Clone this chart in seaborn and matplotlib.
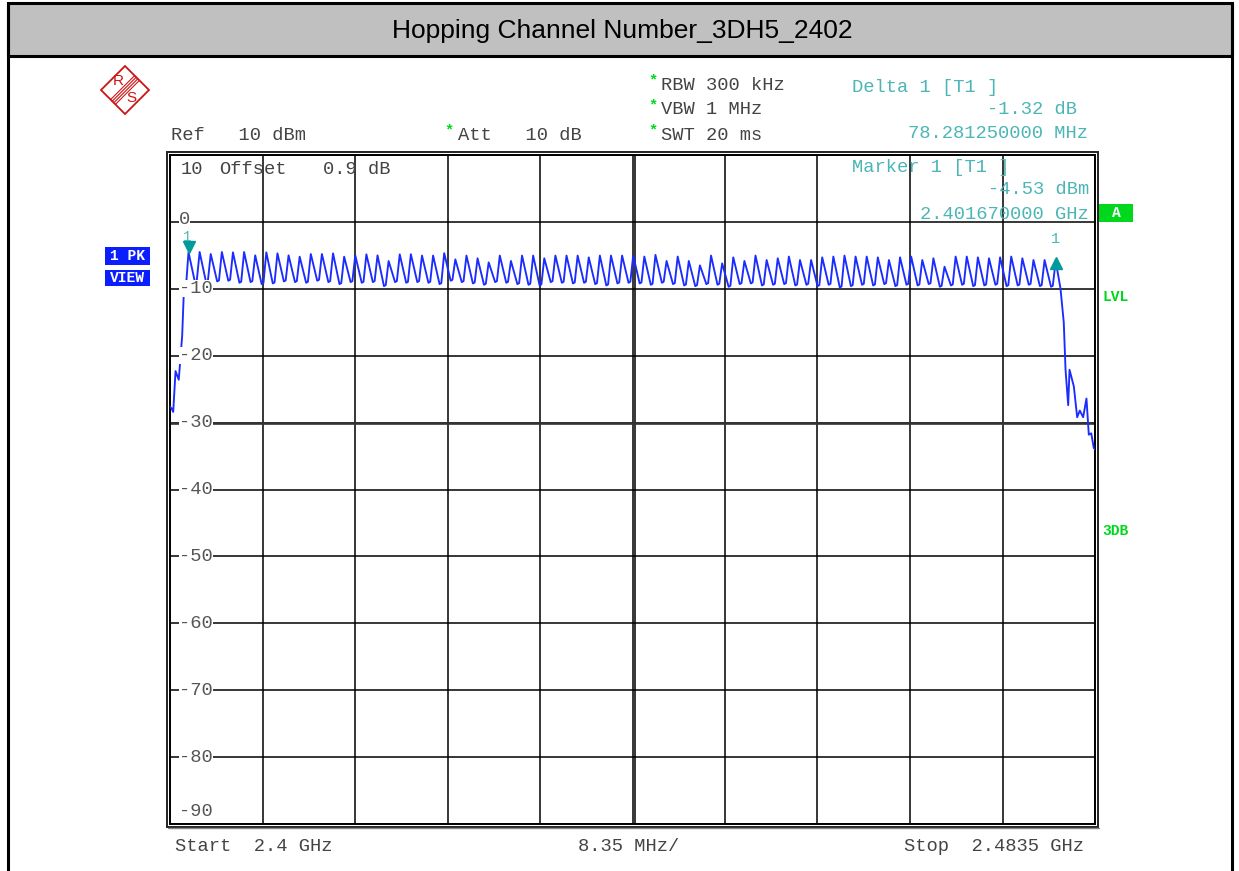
import matplotlib
matplotlib.use('Agg')
import matplotlib.pyplot as plt
import seaborn as sns
import pandas as pd
from matplotlib.patches import Rectangle, Polygon

# ---------------- data ----------------
channel_index = list(range(79))          # hop channels 2402 ... 2480 MHz
first_peak_mhz = 2401.67                 # Marker 1
delta_span_mhz = 78.28125                # Delta 1
marker1_level = -4.53
delta_level_db = -1.32

peak_levels = [
    -4.53, -4.5, -4.8, -4.5, -4.55, -4.5, -5.0, -4.55, -4.7, -5.0,
    -5.2, -4.8, -4.8, -4.7, -5.2, -5.0, -4.85, -5.0, -5.85, -4.85,
    -4.83, -5.03, -5.03, -4.67, -5.6, -5.03, -5.44, -6.05, -5.03, -5.84,
    -5.03, -5.03, -5.44, -5.03, -5.03, -5.03, -5.3, -5.03, -5.03, -5.03,
    -5.03, -5.18, -4.93, -5.84, -5.18, -5.84, -6.5, -5.03, -6.2, -5.3,
    -5.84, -5.03, -5.7, -5.44, -5.18, -5.7, -5.7, -5.3, -5.18, -5.03,
    -5.18, -5.18, -5.3, -5.7, -5.3, -5.18, -5.7, -5.44, -6.7, -5.18,
    -5.18, -5.3, -5.44, -5.3, -5.18, -5.44, -5.7, -5.7, -5.85,
]
dip_levels = [
    -9.0, -9.0, -8.9, -8.8, -9.1, -9.0, -9.3, -9.2, -8.9, -9.0,
    -9.1, -8.8, -9.0, -9.3, -9.0, -9.1, -9.0, -9.6, -9.0, -9.1,
    -9.0, -9.1, -9.3, -8.8, -9.0, -9.2, -9.4, -9.0, -9.1, -9.3,
    -9.4, -9.5, -9.0, -9.1, -9.2, -9.1, -9.3, -9.5, -9.2, -9.1,
    -9.2, -9.4, -9.1, -9.3, -9.5, -9.6, -9.3, -9.4, -9.7, -9.3,
    -9.2, -9.5, -9.4, -9.3, -9.5, -9.4, -9.6, -9.4, -9.8, -9.6,
    -9.4, -9.5, -9.3, -9.6, -9.4, -9.5, -9.3, -9.7, -9.5, -9.4,
    -9.6, -9.5, -9.4, -9.6, -9.5, -9.4, -9.6, -9.7,
]
rise_freqs = [2400.0, 2400.15, 2400.29, 2400.50, 2400.79, 2401.10, 2401.25, 2401.49]
rise_levels = [-27.6, -27.9, -28.4, -22.3, -23.6, -17.0, -10.4, -8.6]
fall_freqs = [2480.38, 2480.68, 2480.84, 2481.08, 2481.20, 2481.59, 2481.89,
              2482.13, 2482.43, 2482.73, 2482.94, 2483.16, 2483.39, 2483.5]
fall_levels = [-9.9, -15.0, -22.1, -27.4, -22.1, -24.6, -29.2,
               -28.2, -29.2, -26.4, -31.8, -31.6, -33.8, -34.0]

start_mhz = 2400.0
stop_mhz = 2483.5
div_mhz = 8.35
ref_top = 10
ref_bottom = -90
y_tick_values = [0, -10, -20, -30, -40, -50, -60, -70, -80, -90]
y_tick_labels = ['0', '-10', '-20', '-30', '-40', '-50', '-60', '-70', '-80', '-90']

# ---------------- build trace table ----------------
step = delta_span_mhz / 78
f_list = list(rise_freqs)
l_list = list(rise_levels)
for k in channel_index:
    fp = first_peak_mhz + k * step
    f_list.append(fp)
    l_list.append(peak_levels[k])
    if k < len(dip_levels):
        f_list += [fp + 0.58 * step, fp + 0.74 * step]
        l_list += [dip_levels[k], dip_levels[k] + 0.15]
f_list += fall_freqs
l_list += fall_levels
trace = pd.DataFrame({'freq': f_list, 'level': l_list})

# ---------------- figure ----------------
W, H = 1239, 871
sns.set_style('white')
plt.rcParams['font.family'] = ['Liberation Mono', 'DejaVu Sans Mono']

fig = plt.figure(figsize=(W / 100, H / 100), dpi=100)
fig.patch.set_facecolor('white')

x0, x1, y0, y1 = 170, 1095, 155, 824
ax = fig.add_axes([x0 / W, 1 - y1 / H, (x1 - x0) / W, (y1 - y0) / H], zorder=1)
sns.lineplot(data=trace, x='freq', y='level', sort=False, estimator=None,
             color='#1a2cff', linewidth=1.35, ax=ax, zorder=4)
ax.set_xlim(start_mhz, stop_mhz)
ax.set_ylim(ref_bottom, ref_top)
ax.set_xticks([start_mhz + div_mhz * i for i in range(11)])
ax.set_yticks(list(range(ref_bottom, ref_top + 1, 10)))
ax.grid(True, color='black', linewidth=1.1)
ax.tick_params(length=0, labelbottom=False, labelleft=False)
ax.set_xlabel('')
ax.set_ylabel('')
for s in ax.spines.values():
    s.set_color('black')
    s.set_linewidth(1.4)
# centre double line and heavier -30 line
ax.axvline(start_mhz + 5 * div_mhz + 0.25, color='black', lw=1.1, zorder=2)
ax.axhline(-30, color='#333333', lw=1.9, zorder=2)

teal_txt = '#4cb5b5'
teal_mk = '#009a9a'
delta_f = first_peak_mhz + delta_span_mhz
ax.plot([first_peak_mhz], [-3.7], marker='v', ms=8, color=teal_mk, zorder=6, ls='none')
ax.plot([delta_f], [-6.1], marker='^', ms=8, color=teal_mk, zorder=6, ls='none')


def fx(f):
    return x0 + (f - start_mhz) / (stop_mhz - start_mhz) * (x1 - x0)


def fy(v):
    return y0 + (ref_top - v) / (ref_top - ref_bottom) * (y1 - y0)


# ---------------- overlay in pixel coordinates ----------------
ov = fig.add_axes([0, 0, 1, 1], zorder=5)
ov.set_xlim(0, W)
ov.set_ylim(H, 0)
ov.axis('off')
ov.patch.set_alpha(0)

# outer frame + title bar
ov.add_patch(Rectangle((8, 3), 1224, 53, facecolor='#c0c0c0', edgecolor='black', lw=2.2))
ov.plot([8, 8], [3, H], color='black', lw=2.2)
ov.plot([1232, 1232], [3, H], color='black', lw=2.2)
ov.text(622, 31, 'Hopping Channel Number_3DH5_2402', family='Liberation Sans',
        fontsize=19, ha='center', va='center', color='black')

# double frame around the graticule
ov.add_patch(Rectangle((x0 - 3, y0 - 3), (x1 - x0) + 6, (y1 - y0) + 6, fill=False,
                       edgecolor='#222222', lw=1.4))
ov.plot([x0 - 2, x1 + 4], [y1 + 4, y1 + 4], color='#888888', lw=1.0)

# R&S logo
red = '#cc1414'
ov.add_patch(Polygon([(125, 66), (149, 90), (125, 114), (101, 90)], closed=True,
                     fill=False, edgecolor=red, lw=1.3))
for off in (-2.4, -0.8, 0.8, 2.4):
    ov.plot([137 + off, 113 + off], [78 + off, 102 + off], color=red, lw=0.8)
ov.text(118, 81, 'R', color=red, fontsize=11, family='Liberation Sans', ha='center', va='center')
ov.text(131, 98, 'S', color=red, fontsize=11, family='Liberation Sans', ha='center', va='center')

dark = '#444444'
green = '#00d81e'
fs = 13.5
# setting texts
ov.text(171, 135, 'Ref   10 dBm', color=dark, fontsize=fs, va='center')
ov.text(449, 130, '*', color=green, fontsize=11, va='center', ha='center', weight='bold')
ov.text(458, 135, 'Att   10 dB', color=dark, fontsize=fs, va='center')
for yy, txt in [(85, 'RBW 300 kHz'), (110, 'VBW 1 MHz'), (135, 'SWT 20 ms')]:
    ov.text(653, yy - 5, '*', color=green, fontsize=11, va='center', ha='center', weight='bold')
    ov.text(661, yy, txt, color=dark, fontsize=fs, va='center')

# marker texts
ov.text(852, 88, 'Delta 1 [T1 ]', color=teal_txt, fontsize=fs, va='center')
ov.text(1077, 110, f'{delta_level_db:.2f} dB', color=teal_txt, fontsize=fs, va='center', ha='right')
ov.text(1088, 134, f'{delta_span_mhz:.9f} MHz', color=teal_txt, fontsize=fs, va='center', ha='right')
ov.text(852, 167, 'Marker 1 [T1 ]', color=teal_txt, fontsize=fs, va='center')
ov.text(1089, 190, f'{marker1_level:.2f} dBm', color=teal_txt, fontsize=fs, va='center', ha='right')
ov.text(1089, 214, f'{first_peak_mhz / 1000:.9f} GHz', color=teal_txt, fontsize=fs, va='center', ha='right')

# offset line at top of graticule
ov.text(181, 169, '10', color=dark, fontsize=fs, va='center')
ov.text(219, 169, 'Offset', color=dark, fontsize=fs, va='center')
ov.text(323, 169, '0.9 dB', color=dark, fontsize=fs, va='center')

# y tick labels inside the graticule
for v, lab in zip(y_tick_values, y_tick_labels):
    yy = fy(v)
    if v == ref_bottom:
        yy -= 13
    if v == 0:
        yy -= 2
    ov.text(179, yy, lab, color='#555555', fontsize=fs, va='center',
            bbox=dict(facecolor='white', edgecolor='none', pad=0.0))

# marker number labels
ov.text(fx(first_peak_mhz) - 1, 236.5, '1', color=teal_txt, fontsize=10, ha='center', va='center')
ov.text(fx(delta_f), 239, '1', color=teal_txt, fontsize=11, ha='center', va='center')

# bottom annotations
ov.text(175, 846, f'Start  {start_mhz / 1000:.1f} GHz', color=dark, fontsize=fs, va='center')
ov.text(578, 846, f'{div_mhz:.2f} MHz/', color=dark, fontsize=fs, va='center')
ov.text(1084, 846, f'Stop  {stop_mhz / 1000:.4f} GHz', color=dark, fontsize=fs, va='center', ha='right')

# left blue boxes
blue = '#0a1eff'
ov.add_patch(Rectangle((105, 247), 45, 18, facecolor=blue, edgecolor='none'))
ov.add_patch(Rectangle((105, 270), 45, 16, facecolor=blue, edgecolor='none'))
ov.text(127.5, 256, '1 PK', color='white', fontsize=10.5, weight='bold', ha='center', va='center')
ov.text(127.5, 278, 'VIEW', color='white', fontsize=10.5, weight='bold', ha='center', va='center')

# right green indicators
ov.add_patch(Rectangle((1099, 204), 34, 18, facecolor=green, edgecolor='none'))
ov.text(1116, 213, 'A', color='white', fontsize=10.5, weight='bold', ha='center', va='center')
ov.text(1102, 297, 'LVL', color=green, fontsize=10.5, weight='bold', va='center')
ov.text(1102, 531, '3DB', color=green, fontsize=10.5, weight='bold', va='center')

fig.savefig('out.png', dpi=100, facecolor='white')
